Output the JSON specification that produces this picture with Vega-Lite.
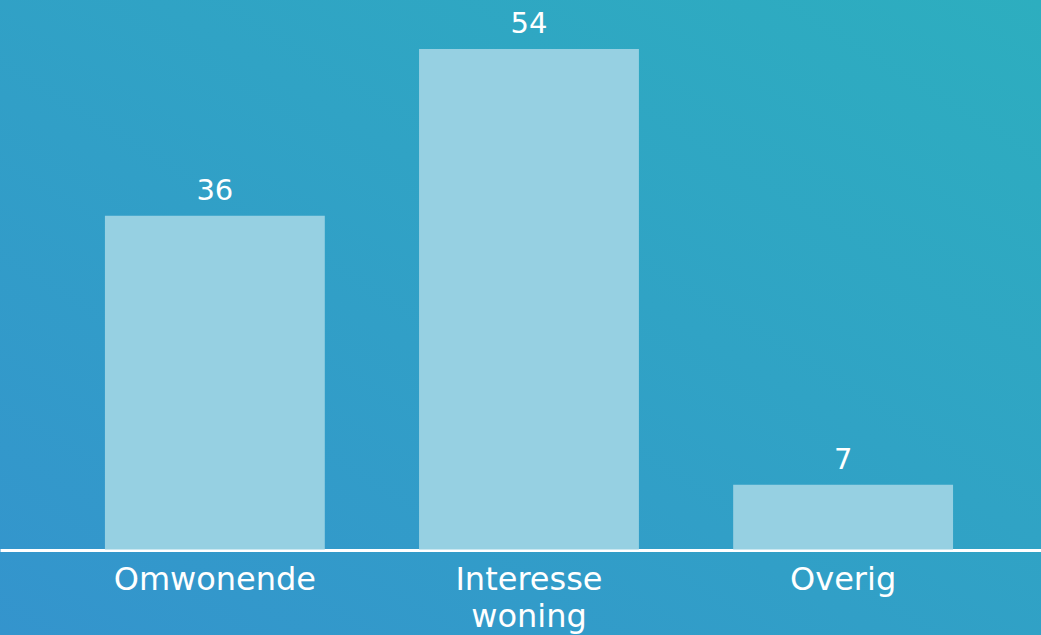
{
  "$schema": "https://vega.github.io/schema/vega-lite/v6.json",
  "width": 1041,
  "height": 635,
  "padding": 0,
  "autosize": {"type": "none"},
  "background": "#2fa3c6",
  "view": {
    "stroke": null,
    "fill": {
      "gradient": "linear",
      "x1": 0, "y1": 1, "x2": 1, "y2": 0,
      "stops": [
        {"offset": 0, "color": "#3494cd"},
        {"offset": 1, "color": "#2daebf"}
      ]
    }
  },
  "data": {
    "values": [
      {"category": "Omwonende", "value": 36},
      {"category": "Interesse woning", "value": 54},
      {"category": "Overig", "value": 7}
    ]
  },
  "encoding": {
    "x": {
      "field": "category",
      "type": "nominal",
      "sort": null,
      "scale": {"paddingInner": 0.3, "paddingOuter": 0.307, "align": 0.544},
      "axis": {
        "title": null,
        "labelAngle": 0,
        "offset": -85,
        "ticks": false,
        "grid": false,
        "domainColor": "#ffffff",
        "domainWidth": 3,
        "labelColor": "#ffffff",
        "labelFont": "DejaVu Sans",
        "labelFontSize": 32,
        "labelFontWeight": "normal",
        "labelBaseline": "top",
        "labelPadding": 14,
        "labelLineHeight": 37,
        "labelLimit": 0,
        "labelExpr": "split(datum.label, ' ')"
      }
    },
    "y": {
      "field": "value",
      "type": "quantitative",
      "scale": {"domain": [-9.22, 59.29], "nice": false, "zero": false},
      "axis": null
    }
  },
  "layer": [
    {
      "mark": {"type": "bar", "color": "#96d0e2"},
      "encoding": {"y2": {"datum": 0}}
    },
    {
      "mark": {
        "type": "text",
        "color": "#ffffff",
        "font": "DejaVu Sans",
        "fontSize": 29,
        "baseline": "alphabetic",
        "dy": -16
      },
      "encoding": {"text": {"field": "value", "type": "quantitative"}}
    }
  ]
}
